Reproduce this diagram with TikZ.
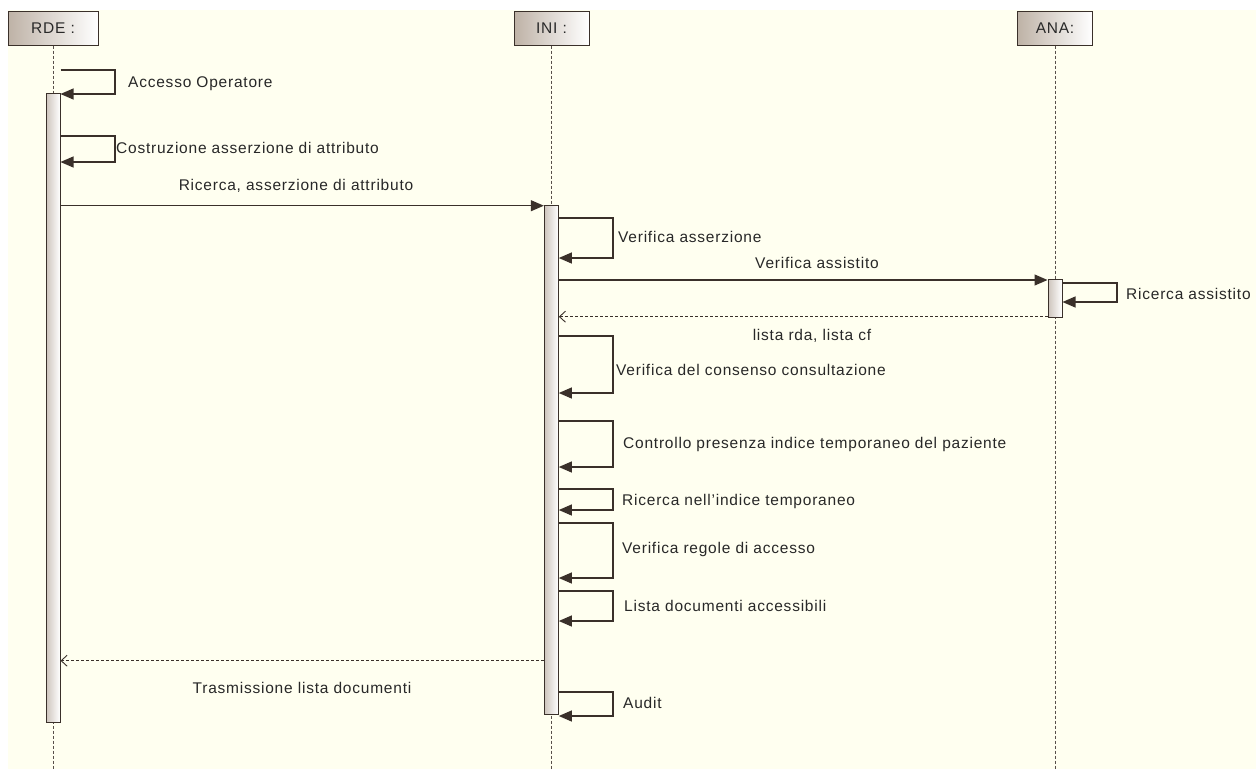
\documentclass[tikz,border=0pt]{standalone}
\usepackage{fontspec}
\setmainfont{Liberation Sans}[LetterSpace=5]
\usetikzlibrary{arrows.meta}
\definecolor{bg}{RGB}{255,255,240}
\definecolor{ln}{RGB}{58,48,42}
\definecolor{boxdark}{RGB}{190,178,166}
\definecolor{bardark}{RGB}{205,196,188}
\definecolor{txt}{RGB}{40,40,40}
\begin{document}
\begin{tikzpicture}[x=1pt,y=-1pt,
  lbl/.style={font=\fontsize{15.5}{18}\selectfont, text=txt, inner sep=0pt},
  objbox/.style={draw=ln, line width=1pt, left color=boxdark, right color=white, minimum height=34pt, inner sep=0pt, font=\fontsize{15.5}{18}\selectfont, text=txt},
  actbar/.style={draw=ln, line width=1pt, left color=bardark, right color=white, minimum width=14pt, inner sep=0pt},
  lifeline/.style={draw=ln!85, line width=0.9pt, dash pattern=on 3pt off 2pt},
  msg/.style={draw=ln, line width=1.1pt, -{Triangle[length=13pt,width=11pt]}},
  ret/.style={draw=ln, line width=0.9pt, dash pattern=on 3pt off 2pt, -{Straight Barb[length=6pt,width=11pt]}}]
\useasboundingbox (0,0) rectangle (1256,769);
\fill[bg] (8,10) rectangle (1256,769);

% object boxes
\node[objbox, minimum width=90pt] (rde) at (53,28) {RDE :};
\node[objbox, minimum width=75pt] (ini) at (551.5,28) {INI :};
\node[objbox, minimum width=75pt] (ana) at (1055,28) {ANA:};

% lifelines
\draw[lifeline] (rde.south) -- (rde.south |- 0,769);
\draw[lifeline] (ini.south) -- (ini.south |- 0,769);
\draw[lifeline] (ana.south) -- (ana.south |- 0,769);

% activation bars
\node[actbar, minimum height=629pt] (barR) at (53,408.3) {};
\node[actbar, minimum height=509pt] (barI) at (551.3,460.3) {};
\node[actbar, minimum height=38pt] (barA) at (1055,298) {};

% RDE self messages
\draw[msg] (barR.east |- 0,70) -- (115,70) -- (115,94) -- (barR.east |- 0,94);
\node[lbl, anchor=west] (l1) at (128,84) {Accesso Operatore};
\draw[msg] (barR.east |- 0,136) -- (115,136) -- (115,162) -- (barR.east |- 0,162);
\node[lbl, anchor=west] (l2) at (116,148) {Costruzione asserzione di attributo};

% RDE -> INI
\draw[msg] (barR.east |- 0,205.7) -- (barI.west |- 0,205.7);
\node[lbl] (l3) at (296,186) {Ricerca, asserzione di attributo};

% INI self
\draw[msg] (barI.east |- 0,218) -- (613,218) -- (613,258) -- (barI.east |- 0,258);
\node[lbl, anchor=west] (l4) at (618,237) {Verifica asserzione};

% INI -> ANA
\draw[msg] (barI.east |- 0,280) -- (barA.west |- 0,280);
\node[lbl] (l5) at (817,263) {Verifica assistito};

% ANA self
\draw[msg] (barA.east |- 0,283) -- (1117,283) -- (1117,302) -- (barA.east |- 0,302);
\node[lbl, anchor=west] (l6) at (1126,294) {Ricerca assistito};

% ANA -> INI return
\draw[ret] (barA.west |- 0,316.7) -- (barI.east |- 0,316.7);
\node[lbl] (l7) at (812,336) {lista rda, lista cf};

% INI self messages
\draw[msg] (barI.east |- 0,336) -- (613,336) -- (613,393) -- (barI.east |- 0,393);
\node[lbl, anchor=west] (l8) at (616,370) {Verifica del consenso consultazione};
\draw[msg] (barI.east |- 0,421) -- (613,421) -- (613,467) -- (barI.east |- 0,467);
\node[lbl, anchor=west] (l9) at (623,444) {Controllo presenza indice temporaneo del paziente};
\draw[msg] (barI.east |- 0,489) -- (613,489) -- (613,510) -- (barI.east |- 0,510);
\node[lbl, anchor=west] (l10) at (622,501) {Ricerca nell'indice temporaneo};
\draw[msg] (barI.east |- 0,523) -- (613,523) -- (613,578) -- (barI.east |- 0,578);
\node[lbl, anchor=west] (l11) at (622,549) {Verifica regole di accesso};
\draw[msg] (barI.east |- 0,591) -- (613,591) -- (613,621) -- (barI.east |- 0,621);
\node[lbl, anchor=west] (l12) at (624,606) {Lista documenti accessibili};

% INI -> RDE return
\draw[ret] (barI.west |- 0,660.7) -- (barR.east |- 0,660.7);
\node[lbl] (l13) at (302,688) {Trasmissione lista documenti};

% Audit
\draw[msg] (barI.east |- 0,692) -- (613,692) -- (613,716) -- (barI.east |- 0,716);
\node[lbl, anchor=west] (l14) at (623,703) {Audit};
\end{tikzpicture}
\end{document}
